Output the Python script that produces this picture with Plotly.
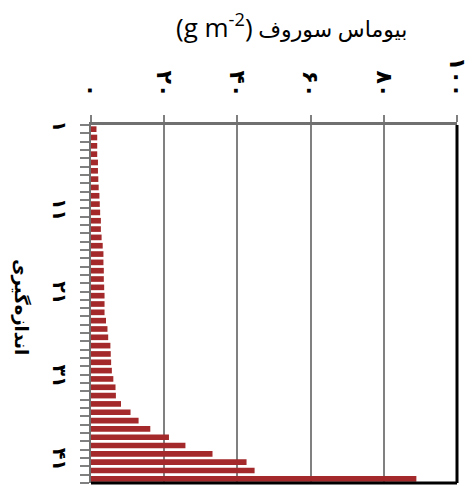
import plotly.graph_objects as go

# measurement index (1..43, top to bottom)
measurements = list(range(1, 44))
# barnyard-grass biomass (g m-2)
biomass = [1.5, 1.7, 1.7, 1.7, 1.9, 1.9, 2.0, 2.1, 2.3, 2.4, 2.5, 2.7, 2.7, 2.9, 3.2,
           3.4, 3.4, 3.5, 3.5, 3.6, 3.7, 3.7, 3.7, 4.1, 4.5, 4.7, 5.3, 5.4, 5.5, 5.7,
           6.1, 6.7, 6.8, 8.2, 10.8, 13.0, 16.2, 21.3, 25.8, 33.2, 42.5, 44.7, 88.9]

x_tickvals = [0, 20, 40, 60, 80, 100]
x_ticktext = ["۰", "۲۰", "۴۰", "۶۰", "۸۰", "۱۰۰"]
y_tickvals = [1, 11, 21, 31, 41]
y_ticktext = ["۱", "۱۱", "۲۱", "۳۱", "۴۱"]

title_latin = "(g m<sup>-2</sup>)"
title_persian = "بیوماس سوروف"
y_title_text = "اندازه\u200cگیری"

FONT = "Open Sans, DejaVu Sans, sans-serif"
GRID = "#808080"

fig = go.Figure(go.Bar(
    x=biomass, y=measurements, orientation="h",
    marker=dict(color="#a3292a", line=dict(width=0)),
))

fig.update_layout(
    width=472, height=486,
    margin=dict(l=91, r=15, t=125, b=3),
    paper_bgcolor="white", plot_bgcolor="white",
    bargap=0.32,
    showlegend=False,
    font=dict(family=FONT, color="black"),
    xaxis=dict(
        side="top", range=[0, 100],
        tickmode="array", tickvals=x_tickvals, ticktext=x_ticktext,
        tickangle=90, tickfont=dict(size=22, family="DejaVu Sans", color="black", weight="bold"),
        ticks="outside", ticklen=7, tickwidth=2, tickcolor=GRID,
        ticklabelstandoff=10,
        showgrid=True, gridcolor=GRID, gridwidth=2,
        showline=True, linecolor="#707070", linewidth=3,
        zeroline=False, fixedrange=True,
    ),
    yaxis=dict(
        range=[43.5, 0.5],
        tickmode="array", tickvals=y_tickvals, ticktext=y_ticktext,
        tickangle=90, tickfont=dict(size=19, family="DejaVu Sans", color="black", weight="bold"),
        ticks="outside", ticklen=9, tickwidth=2, tickcolor="rgba(0,0,0,0)",
        ticklabelstandoff=4,
        minor=dict(tickmode="linear", tick0=0.5, dtick=1, ticks="outside",
                   ticklen=9, tickwidth=2, tickcolor=GRID, showgrid=False),
        showgrid=False, showline=True, linecolor="#707070", linewidth=2,
        zeroline=False, fixedrange=True,
    ),
    shapes=[
        dict(type="line", xref="paper", yref="paper", x0=1, x1=1, y0=0, y1=1,
             line=dict(color="black", width=3)),
        dict(type="line", xref="paper", yref="paper", x0=0, x1=1, y0=0, y1=0,
             line=dict(color="black", width=3)),
    ],
    annotations=[
        dict(text=("<span style='font-size:26px'>" + title_latin + "</span> "
                   "<span style='font-size:22px'>" + title_persian + "</span>"),
             xref="paper", yref="paper", x=0.548, y=1.276,
             xanchor="center", yanchor="middle", showarrow=False,
             font=dict(size=22, family=FONT, color="black")),
        dict(text=y_title_text, xref="paper", yref="paper", x=-0.19, y=0.49,
             xanchor="center", yanchor="middle", showarrow=False, textangle=90,
             font=dict(size=18, family="DejaVu Sans", color="black", weight="bold")),
    ],
)

fig.write_html("out.html")
